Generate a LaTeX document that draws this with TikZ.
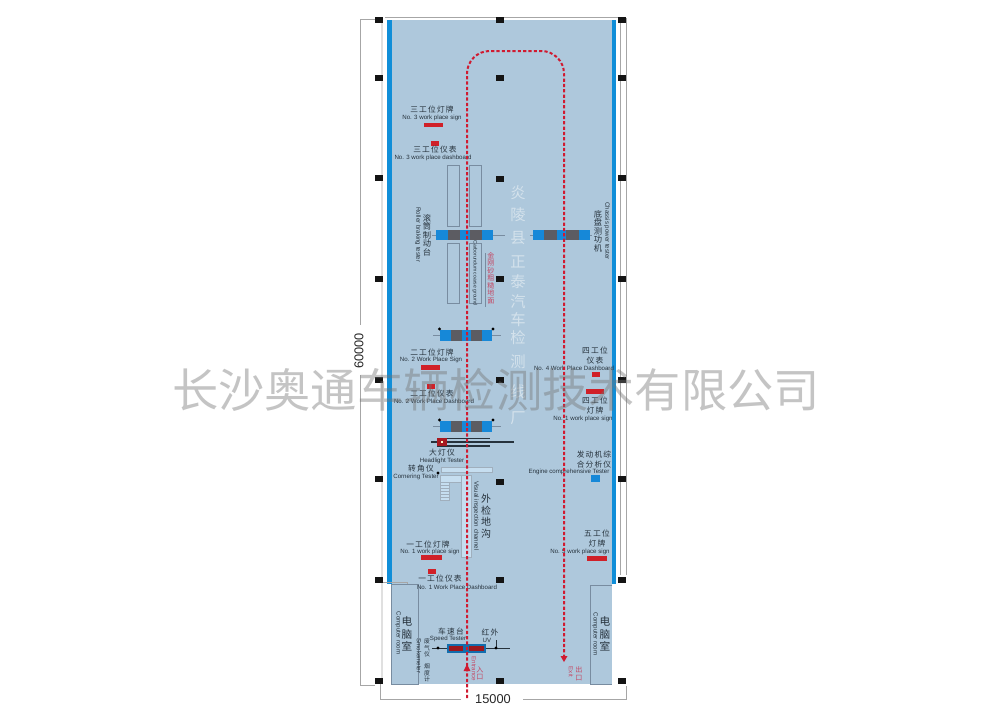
\documentclass[tikz,border=0pt]{standalone}
\usepackage{fontspec}
\setmainfont{Liberation Sans}
\newfontfamily\cjk{Noto Sans CJK SC}
\newfontfamily\cjkw[LetterSpace=15]{Noto Sans CJK SC}
\usetikzlibrary{arrows.meta}

\begin{document}
\begin{tikzpicture}[
    x=0.75pt, y=-0.75pt,
    every node/.style={inner sep=0pt},
    zh/.style={font=\cjkw\fontsize{5.8}{6.5}\selectfont, text=labeltext},
    en/.style={font=\fontsize{4.6}{5.5}\selectfont, text=labeltext},
    enside/.style={en, rotate=-90},
    zhstack/.style 2 args={font=\cjk\fontsize{#1}{#2}\selectfont, text=labeltext, align=center},
    redstack/.style={font=\cjk\fontsize{5.3}{5.6}\selectfont, text=pinkred, align=center},
    dim/.style={font=\fontsize{9.6}{11}\selectfont, text=black!85},
    pillar/.style={fill=black!92, minimum width=6pt, minimum height=5.2pt},
    dot/.style={circle, fill=black, minimum size=2.4pt},
    outline/.style={draw=framegray, line width=0.5pt},
    lamp/.style={fill=signred},
    pale/.style={fill=palefill, draw=framegray!70, line width=0.3pt},
    route/.style={draw=routered, line width=1.5pt, dash pattern=on 2.4pt off 1.6pt},
    dimline/.style={draw=black!35, line width=0.4pt}
]
\definecolor{floorblue}{RGB}{174,200,220}   % floor
\definecolor{wallblue}{RGB}{16,142,216}     % wall strip
\definecolor{rollerblue}{RGB}{22,136,216}
\definecolor{rollergray}{RGB}{92,92,98}
\definecolor{framegray}{RGB}{120,140,160}
\definecolor{labeltext}{RGB}{38,50,60}
\definecolor{pinkred}{RGB}{196,72,100}
\definecolor{signred}{RGB}{208,32,40}
\definecolor{routered}{RGB}{208,26,48}
\definecolor{palefill}{RGB}{198,222,240}
\definecolor{plantwhite}{RGB}{212,226,236}

\useasboundingbox (0,0) rectangle (992,726);

% floor and walls
\fill[floorblue] (388,20) rectangle (616,584);
\fill[floorblue] (391,584) rectangle (612,684);
\fill[wallblue] (387,20) rectangle (392,584);
\fill[wallblue] (612,20) rectangle (616,584);

% outer frame and dimensions
\draw[black!12, line width=1.2pt] (382,20) -- (382,684);
\draw[dimline] (385,17) -- (618,17);
\draw[dimline] (360,19) -- (375,19);
\draw[dimline] (360,19) -- (360,325);
\draw[dimline] (360,375) -- (360,685) -- (375,685);
\draw[dimline] (620,20) -- (620,575);
\draw[dimline] (626,18) -- (626,575);
\draw[dimline] (380,684) -- (380,699) -- (461,699);
\draw[dimline] (523,699) -- (626,699) -- (626,686);
\draw[dimline] (383,582) -- (407,582) -- (407,584);
\node[dim, rotate=90] (dimheight) at (359,351) {60000};
\node[dim] (dimwidth) at (493,699) {15000};

% pillars
\foreach \px/\py [count=\i] in {379/20,379/78,379/178,379/279,379/380,379/479,379/580,379/681,
    500/20,500/78,500/179,500/279,500/380,500/482,500/580,500/681,
    622/20,622/78,622/178,622/279,622/380,622/479,622/580,622/681}
    \node[pillar] (pillar\i) at (\px,\py) {};

% computer rooms
\draw[outline] (391,584) rectangle (418,684);
\draw[outline] (612,585) -- (590,585) -- (590,684) -- (612,684);
\node[zhstack={8}{9.5}] (roomleft) at (407,634) {电\\脑\\室};
\node[zhstack={8}{9.5}] (roomright) at (605,634) {电\\脑\\室};
\node[enside] (roomleften) at (398,633) {Computer room};
\node[enside] (roomrighten) at (595,634) {Computer room};

% roller brake plates
\draw[outline] (447,165) rectangle (459,226);
\draw[outline] (469,165) rectangle (481,226);
\draw[outline] (447,243) rectangle (459,303);
\draw[outline] (469,243) rectangle (481,303);
\draw[outline] (485,253) -- (485,307);
\node[en, rotate=-90, font=\fontsize{3.8}{4.5}\selectfont] (carbo) at (475,273) {Carborundum coarse ground};
\node[redstack] (carbozh) at (491,278) {金\\刚\\砂\\粗\\糙\\地\\面};

% test stands
\draw[outline] (432,235) -- (505,235);
\fill[rollerblue] (436,230) rectangle (493,240);
\fill[rollergray] (448,230) rectangle (460,240);
\fill[rollergray] (470,230) rectangle (482,240);
\draw[outline] (530,235) -- (592,235);
\fill[rollerblue] (533,230) rectangle (590,240);
\fill[rollergray] (544,230) rectangle (557,240);
\fill[rollergray] (566,230) rectangle (579,240);
\foreach \sy/\sn in {335/a,426/b}{
    \draw[outline] (433,\sy) -- (501,\sy);
    \fill[rollerblue] (440,\sy-5.5) rectangle (492,\sy+5.5);
    \fill[rollergray] (451,\sy-5.5) rectangle (462,\sy+5.5);
    \fill[rollergray] (471,\sy-5.5) rectangle (482,\sy+5.5);
    \node[dot] (stand\sn l) at (439.5,\sy-6) {};
    \node[dot] (stand\sn r) at (493,\sy-6) {};
}

% headlight tester
\draw[labeltext, line width=0.8pt] (437,438.5) -- (490,438.5);
\draw[labeltext, line width=0.8pt] (431,442) -- (514,442);
\draw[labeltext, line width=0.8pt] (437,446) -- (490,446);
\fill[signred!80!black] (437,438) rectangle (447,446);
\fill[white!80!yellow] (441,441) rectangle (443,443);

% inspection channel and turn plate
\draw[pale] (441,467) rectangle (492,472);
\draw[pale] (440,475) rectangle (461,482);
\draw[pale] (461,475) rectangle (471,557);
\draw[pale] (440,482) rectangle (449,500);
\foreach \ly in {485,488,491,494,497}
    \draw[framegray!70, line width=0.3pt] (440,\ly) -- (449,\ly);
\node[dot] (turndot) at (438,473) {};
\node[enside] (channelen) at (476,516) {Visual inspection channel};
\node[zhstack={7.5}{8.6}] (channelzh) at (486,516) {外\\检\\地\\沟};

% speed tester
\draw[labeltext, line width=0.5pt] (432,648) -- (510,648);
\draw[labeltext, line width=0.5pt] (496,640) -- (496,648);
\fill[rollerblue!80!black] (447,644) rectangle (486,653);
\fill[signred!75!black] (449,646) rectangle (463,651);
\fill[signred!75!black] (469,646) rectangle (484,651);
\node[dot] (speedl) at (438,648) {};
\node[dot] (speedr) at (496,648) {};

% signs and dashboards
\fill[lamp] (424,122.5) rectangle (443,127);
\fill[lamp] (431,141) rectangle (439,146);
\fill[lamp] (421,365) rectangle (440,369.5);
\fill[lamp] (427,384) rectangle (435,389);
\fill[lamp] (421,555) rectangle (441.5,560);
\fill[lamp] (427.5,569) rectangle (435.5,573.5);
\fill[lamp] (592,372) rectangle (600,376.5);
\fill[lamp] (586,389) rectangle (604,394);
\fill[lamp] (587,556) rectangle (607,561);
\fill[rollerblue] (590.5,475) rectangle (600,482);

% labels
\node[zh] (sign3zh) at (432,110) {三工位灯牌};
\node[en] (sign3en) at (432,118) {No. 3 work place sign};
\node[zh] (dash3zh) at (435,150) {三工位仪表};
\node[en] (dash3en) at (433,157.5) {No. 3 work place dashboard};
\node[zh] (sign2zh) at (432,352.5) {二工位灯牌};
\node[en] (sign2en) at (431,360) {No. 2 Work Place Sign};
\node[zh] (dash2zh) at (432,393.5) {二工位仪表};
\node[en] (dash2en) at (434,401) {No. 2 Work Place Dashboard};
\node[zh] (sign1zh) at (428,544.5) {一工位灯牌};
\node[en] (sign1en) at (430,551.5) {No. 1 work place sign};
\node[zh] (dash1zh) at (440,579) {一工位仪表};
\node[en] (dash1en) at (457,587) {No. 1 Work Place Dashboard};
\node[zh] (dash4zha) at (595,351) {四工位};
\node[zh] (dash4zhb) at (595,361) {仪表};
\node[en] (dash4en) at (574,368) {No. 4 Work Place Dashboard};
\node[zh] (sign4zha) at (595,401) {四工位};
\node[zh] (sign4zhb) at (595,411) {灯牌};
\node[en] (sign4en) at (583,419) {No. 1 work place sign};
\node[zh] (enginezha) at (594,455) {发动机综};
\node[zh] (enginezhb) at (594,465) {合分析仪};
\node[en] (engineen) at (569,472) {Engine comprehensive Tester};
\node[zh] (sign5zha) at (597,534) {五工位};
\node[zh] (sign5zhb) at (597,544) {灯牌};
\node[en] (sign5en) at (580,551.5) {No. 5 work place sign};
\node[zh] (lampzh) at (442,453) {大灯仪};
\node[en] (lampen) at (442,461) {Headlight Tester};
\node[zh] (turnzh) at (421,469) {转角仪};
\node[en] (turnen) at (416,477) {Cornering Tester};
\node[zh] (speedzh) at (451,632) {车速台};
\node[en] (speeden) at (448,638.5) {Speed Tester};
\node[zh] (uvzh) at (490,633) {红外};
\node[en] (uven) at (487,640) {UV};
\node[zhstack={6.2}{6.4}] (rollerzh) at (427,235) {滚\\筒\\制\\动\\台};
\node[enside] (rolleren) at (418,235) {Roller braking tester};
\node[zhstack={6.2}{6.4}] (chassiszh) at (598,231) {底\\盘\\测\\功\\机};
\node[enside] (chassisen) at (607,231) {Chassis power tester};
\node[enside] (smokeen) at (419,656) {Smokemeter};
\node[zhstack={4.4}{4.9}] (smokezha) at (427,648) {废\\气\\仪};
\node[zhstack={4.4}{4.9}] (smokezhb) at (427,673) {烟\\度\\计};

% plant name
\foreach \ch/\cy in {炎/193,陵/215,县/238,正/262,泰/282,汽/302,车/320,检/338,测/362,线/392,厂/418}
    \node[font=\cjk\fontsize{11.5}{12}\selectfont, text=plantwhite] (plant\cy) at (518,\cy) {\ch};

% vehicle route
\coordinate (entry) at (467,698);
\coordinate (exit) at (564,660);
\draw[route, rounded corners=17pt] (entry) -- (467,51) -- (564,51) -- (exit);
\fill[routered] (564,662) -- (560.5,656) -- (567.5,656) -- cycle;
\fill[routered] (467,664) -- (463.5,671) -- (470.5,671) -- cycle;
\node[redstack] (entryzh) at (480,673.5) {入\\口};
\node[en, text=pinkred, rotate=-90] (entryen) at (474,669) {Entrance};
\node[redstack] (exitzh) at (579,673.5) {出\\口};
\node[en, text=pinkred, rotate=-90] (exiten) at (571,672) {Exit};

% watermark
\node[font=\cjk\fontsize{34.7}{36}\selectfont, text=black!55, opacity=0.42] (watermark) at (496,390) {长沙奥通车辆检测技术有限公司};

\end{tikzpicture}
\end{document}
